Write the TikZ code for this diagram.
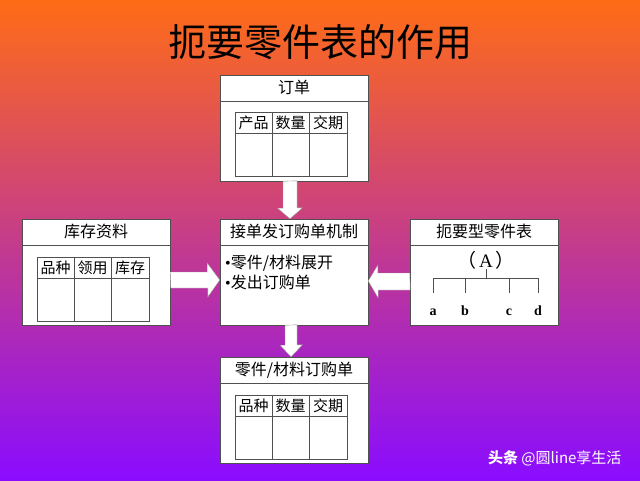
\documentclass[tikz,border=0pt]{standalone}
\usepackage{fontspec}
\setmainfont{Liberation Serif}
\newfontfamily\cjk{Noto Sans CJK SC}
\usepackage{tikz}
\usetikzlibrary{positioning}
\definecolor{bgtop}{RGB}{255,108,22}
\definecolor{bgmid}{RGB}{216,66,164}
\definecolor{bgbot}{RGB}{138,12,255}
\definecolor{rimgrey}{RGB}{80,80,80}

\tikzset{
  panel/.style={draw=rimgrey, fill=white, minimum width=148pt, minimum height=106pt, inner sep=0pt},
  blockarrow/.style={draw=rimgrey!60, fill=white, line join=miter},
  head/.style={font=\cjk\fontsize{16}{18}\selectfont, inner sep=0pt},
  cell/.style={font=\cjk\fontsize{15}{17}\selectfont, inner sep=0pt},
  leaf/.style={font=\bfseries\fontsize{14}{16}\selectfont, anchor=base, inner sep=0pt},
}

% three-column table, top left corner at (#1,#2)
\newcommand{\formgrid}[6]{%
  \draw[rimgrey] (#1,#2) rectangle ++(112,64);
  \draw[rimgrey] (#1,#2+21) -- ++(112,0);
  \draw[rimgrey] (#1+37,#2) -- ++(0,64) (#1+74,#2) -- ++(0,64);
  \node[cell] (#6-1) at (#1+18.5,#2+11) {#3};
  \node[cell] (#6-2) at (#1+55.5,#2+11) {#4};
  \node[cell] (#6-3) at (#1+93,#2+11) {#5};
}
\newcommand{\dotmark}{{\rmfamily\textbullet}}

\begin{document}
\begin{tikzpicture}[x=1pt,y=-1pt]
        \useasboundingbox (0,0) rectangle (640,480);
        \shade[top color=bgtop, middle color=bgmid, bottom color=bgbot] (0,0) rectangle (640,480);
        \node[font=\cjk\fontsize{38}{40}\selectfont] (title) at (320,42) {扼要零件表的作用};

        % the five panels
        \node[panel] (order) at (294,128) {};
        \node[panel] (stock) at (96,272) {};
        \node[panel] (mech) at (294,272) {};
        \node[panel] (bom) at (484,272) {};
        \node[panel] (purchase) at (294,410) {};
        \foreach \p in {order,stock,mech,bom,purchase}
          \draw[rimgrey] ([yshift=-26pt]\p.north west) -- ([yshift=-26pt]\p.north east);

        \node[head] (orderhead) at ([yshift=-13pt]order.north) {订单};
        \node[head] (stockhead) at ([yshift=-13pt]stock.north) {库存资料};
        \node[head] (mechhead) at ([yshift=-13pt]mech.north) {接单发订购单机制};
        \node[head] (bomhead) at ([yshift=-13pt]bom.north) {扼要型零件表};
        \node[head] (purchasehead) at ([yshift=-13pt]purchase.north) {零件/材料订购单};

        \formgrid{235}{112}{产品}{数量}{交期}{ordercell}
        \formgrid{37}{257}{品种}{领用}{库存}{stockcell}
        \formgrid{235}{395}{品种}{数量}{交期}{purchasecell}

        \node[head, anchor=west] (step1) at (225,263) {\dotmark 零件/材料展开};
        \node[head, anchor=west] (step2) at (225,282) {\dotmark 发出订购单};

        % product structure
        \node[font=\fontsize{19}{21}\selectfont, inner sep=0pt] (top) at (486,260) {{\cjk （}\hspace{3pt}A\hspace{3pt}{\cjk ）}};
        \node[leaf] (la) at (433,315) {a};
        \node[leaf] (lb) at (465,315) {b};
        \node[leaf] (lc) at (509,315) {c};
        \node[leaf] (ld) at (538,315) {d};
        \coordinate (bar) at (486,278);
        \draw[rimgrey] (486,269) -- (bar);
        \draw[rimgrey] (la |- bar) -- (ld |- bar);
        \foreach \n in {la,lb,lc,ld}
          \draw[rimgrey] (\n |- bar) -- ++(0,15);

        % block arrows
        \draw[blockarrow] ([xshift=-11pt]order.south) -- ++(0,27) -- ++(-5.5,0)
          -- ([xshift=-4pt]mech.north) -- ++(12.5,-11) -- ++(-5.5,0) -- ++(0,-27) -- cycle;
        \draw[blockarrow] (stock.east) -- ++(37,0) -- ++(0,-9)
          -- ([yshift=-8pt]mech.west) -- ++(-12,17) -- ++(0,-9) -- ++(-37,0) -- cycle;
        \draw[blockarrow] ([yshift=-1pt]bom.west) -- ++(-32,0) -- ++(0,-8)
          -- ([yshift=-9pt]mech.east) -- ++(10,17) -- ++(0,-8) -- ++(32,0) -- cycle;
        \draw[blockarrow] ([xshift=-9pt]mech.south) -- ++(0,20) -- ++(-5,0)
          -- ([xshift=-3pt]purchase.north) -- ++(11.5,-12) -- ++(-5.5,0) -- ++(0,-20) -- cycle;

        \node[text=white, font=\cjk\fontsize{15}{17}\selectfont, anchor=east] (mark) at (625,458)
          {\textbf{头条} @圆line享生活};
      \end{tikzpicture}
\end{document}
